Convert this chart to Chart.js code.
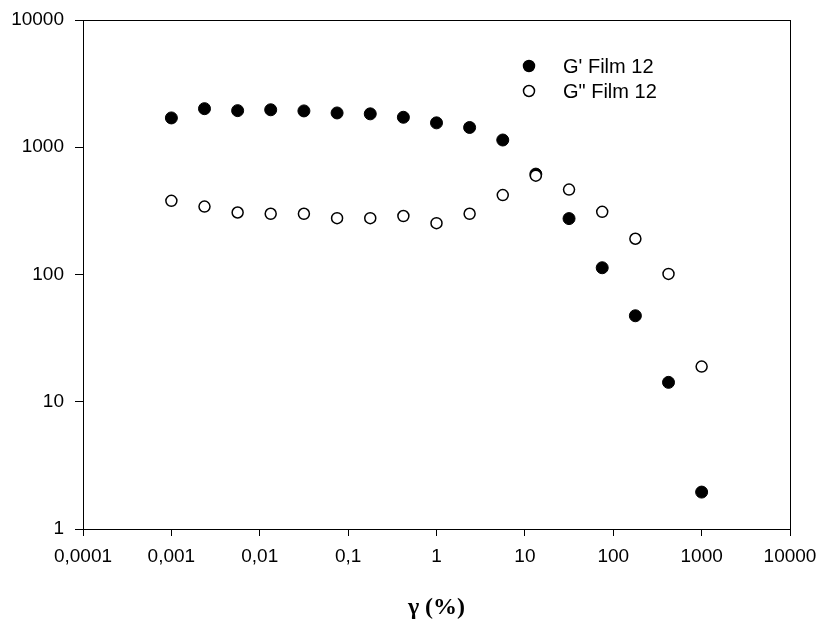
<!DOCTYPE html>
<html>
<head>
<meta charset="utf-8">
<script src="https://cdn.jsdelivr.net/npm/chart.js@4"></script>
<style>
    html, body { margin: 0; padding: 0; background: #fff; }
    #wrap { width: 821px; height: 628px; }
</style>
</head>
<body>
<div id="wrap"><canvas id="rheoChart"></canvas></div>
<script>
// strain amplitude (%)
const strain = [0.001, 0.00237, 0.00562, 0.0133, 0.0316, 0.075, 0.178, 0.422, 1,
    2.37, 5.62, 13.3, 31.6, 75, 178, 422, 1000]
// G' and G'' for Film 12
const gStorage = [1700, 2010, 1940, 1970, 1930, 1860, 1830, 1720, 1555,
    1430, 1140, 615, 275, 113, 47.4, 14.2, 1.95]
const gLoss = [379, 342, 307, 300, 300, 277, 277, 288, 253,
    300, 421, 598, 465, 311, 191, 101, 18.9]
const xTicks = [0.0001, 0.001, 0.01, 0.1, 1, 10, 100, 1000, 10000]
const yTicks = [1, 10, 100, 1000, 10000]
const labels = ["G' Film 12", 'G" Film 12']

function toPoints(ys) {
    return strain.map((x, i) => ({x: x, y: ys[i]}))
}

// box round the plot + legend at its fixed spot
const framePlugin = {
    id: 'frame',
    afterDraw(chart) {
        const ctx = chart.ctx
        const a = chart.chartArea
        ctx.save()
        ctx.strokeStyle = '#000'
        ctx.lineWidth = 1
        ctx.strokeRect(a.left + 0.5, a.top + 0.5, a.right - a.left, a.bottom - a.top)
        // legend
        ctx.font = '20px "Liberation Sans", Arial, sans-serif'
        ctx.textBaseline = 'middle'
        ctx.fillStyle = '#000'
        chart.data.datasets.forEach((ds, i) => {
            const y = 66 + i * 25
            ctx.beginPath()
            ctx.arc(529, y, 5.5, 0, Math.PI * 2)
            ctx.fillStyle = ds.backgroundColor
            ctx.fill()
            ctx.lineWidth = 1.5
            ctx.strokeStyle = '#000'
            ctx.stroke()
            ctx.fillStyle = '#000'
            ctx.fillText(ds.label, 563, y + 1)
        })
        ctx.restore()
    }
}

const tickFont = {family: '"Liberation Sans", Arial, sans-serif', size: 19}

const ctx = document.getElementById('rheoChart').getContext('2d')
const rheoChart = new Chart(ctx, {
    type: 'scatter',
    data: {
        datasets: [{
            label: labels[0],
            data: toPoints(gStorage),
            backgroundColor: '#000',
            borderColor: '#000',
            borderWidth: 1,
            pointRadius: 6,
            order: 1
        }, {
            label: labels[1],
            data: toPoints(gLoss),
            backgroundColor: '#fff',
            borderColor: '#000',
            borderWidth: 1.5,
            pointRadius: 5.5,
            order: 0
        }]
    },
    options: {
        responsive: true,
        maintainAspectRatio: false,
        animation: false,
        layout: {
            padding: {left: 0, top: 20, right: 31, bottom: 0}
        },
        plugins: {
            legend: {display: false},
            tooltip: {enabled: false}
        },
        scales: {
            x: {
                type: 'logarithmic',
                min: 0.0001,
                max: 10000,
                afterBuildTicks: (scale) => {
                    scale.ticks = xTicks.map(v => ({value: v}))
                },
                afterFit: (scale) => {
                    scale.height = 99
                    scale.paddingLeft = 0
                    scale.paddingRight = 0
                },
                border: {display: true, color: '#000', width: 1},
                grid: {
                    display: true,
                    drawOnChartArea: false,
                    drawTicks: true,
                    tickLength: 7,
                    color: '#000'
                },
                ticks: {
                    color: '#000',
                    font: tickFont,
                    padding: 9,
                    maxRotation: 0,
                    autoSkip: false,
                    callback: (v) => String(v).replace('.', ',')
                },
                title: {
                    display: true,
                    text: 'γ (%)',
                    color: '#000',
                    font: {family: '"Liberation Serif", "Times New Roman", serif', size: 24, weight: 'bold'},
                    padding: {top: 0, bottom: 6}
                }
            },
            y: {
                type: 'logarithmic',
                min: 1,
                max: 10000,
                afterBuildTicks: (scale) => {
                    scale.ticks = yTicks.map(v => ({value: v}))
                },
                afterFit: (scale) => {
                    scale.width = 83
                    scale.paddingTop = 0
                    scale.paddingBottom = 0
                },
                border: {display: true, color: '#000', width: 1},
                grid: {
                    display: true,
                    drawOnChartArea: false,
                    drawTicks: true,
                    tickLength: 8,
                    color: '#000'
                },
                ticks: {
                    color: '#000',
                    font: tickFont,
                    padding: 11,
                    autoSkip: false,
                    callback: (v) => String(v)
                }
            }
        }
    },
    plugins: [framePlugin]
})
</script>
</body>
</html>
